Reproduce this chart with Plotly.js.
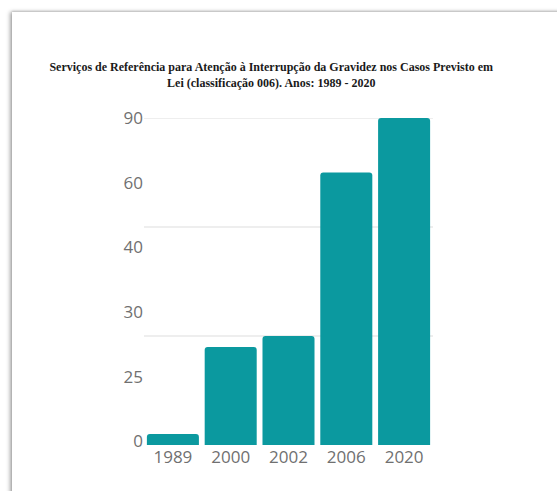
<!DOCTYPE html>
<html>
<head>
<meta charset="utf-8">
<script src="https://cdn.plot.ly/plotly-3.0.1.min.js"></script>
<style>
  html, body { margin: 0; padding: 0; background: #ffffff; width: 557px; height: 491px; overflow: hidden; }
  #card { position: absolute; left: 12px; top: 12px; width: 600px; height: 520px; background: #ffffff;
          box-shadow: -2px 0 4px rgba(0,0,0,0.35), 0 -1px 2px rgba(0,0,0,0.12); }
  #chart { position: absolute; left: 0; top: 0; width: 557px; height: 491px; }
</style>
</head>
<body>
<div id="card"></div>
<div id="chart"></div>
<script>
// Data
const years = ["1989", "2000", "2002", "2006", "2020"];
const services = [3, 27, 30, 75, 90];

// Y-axis labels as printed in the reference (evenly spaced along the axis)
const yTickText = ["0", "25", "30", "40", "60", "90"];
// Horizontal gridlines drawn in the reference
const gridValues = [30, 60, 90];

const yMax = 90;
const yLabelStart = 1;
const yTickVals = yTickText.map((_, i) => yLabelStart + i * (yMax - yLabelStart) / (yTickText.length - 1));

const trace = {
  type: "bar",
  x: years,
  y: services,
  marker: { color: "#0b999f", cornerradius: 3, line: { width: 0 } },
  hoverinfo: "x+y"
};

const layout = {
  width: 557,
  height: 491,
  paper_bgcolor: "rgba(0,0,0,0)",
  plot_bgcolor: "rgba(0,0,0,0)",
  margin: { l: 144, r: 124, t: 118, b: 46 },
  showlegend: false,
  bargap: 0.1,
  title: {
    text: "Serviços de Referência para Atenção à Interrupção da Gravidez nos Casos Previsto em<br>Lei (classificação 006). Anos: 1989 - 2020",
    font: { family: "Liberation Serif", size: 12, color: "#1a1a1a", weight: "bold" },
    xref: "container", x: 0.487, xanchor: "center",
    yref: "container", y: 1 - 71 / 491, yanchor: "top"
  },
  xaxis: {
    type: "category",
    showgrid: false, zeroline: false, showline: false,
    ticks: "",
    tickfont: { family: "Open Sans", size: 17, color: "#707070" }
  },
  yaxis: {
    range: [0, yMax],
    showgrid: false, zeroline: false, showline: false,
    ticks: "",
    tickmode: "array",
    tickvals: yTickVals,
    ticktext: yTickText,
    tickfont: { family: "Open Sans", size: 17, color: "#707070" }
  },
  shapes: gridValues.map(v => ({
    type: "line", xref: "paper", x0: 0, x1: 1, yref: "y", y0: v, y1: v,
    line: { color: "#e8e8e8", width: 1.5 }, layer: "below"
  }))
};

Plotly.newPlot("chart", [trace], layout, { displayModeBar: false, staticPlot: true });
</script>
</body>
</html>
